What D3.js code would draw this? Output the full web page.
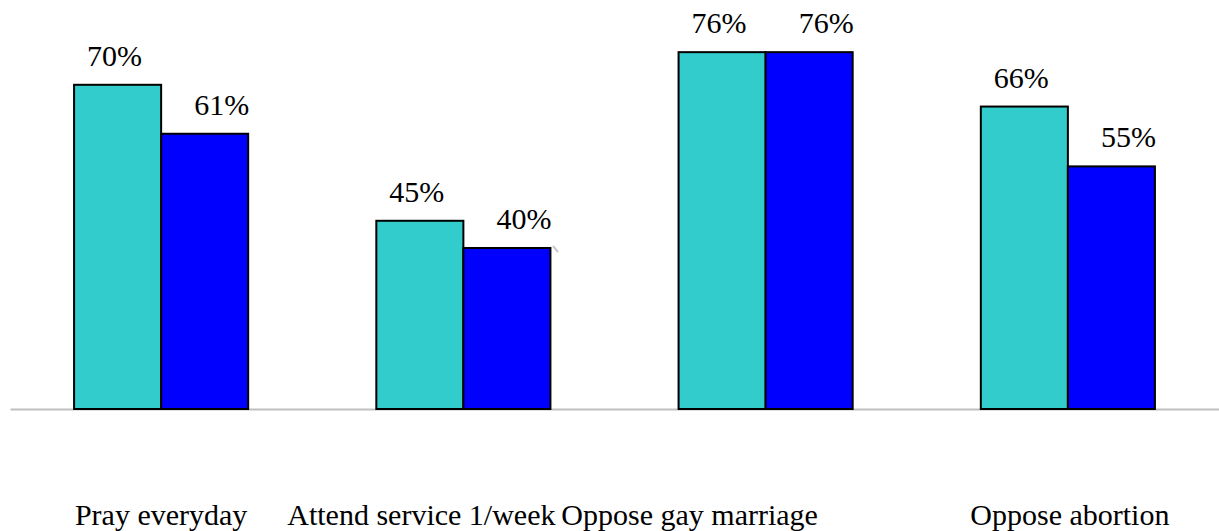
<!DOCTYPE html>
<html>
<head>
<meta charset="utf-8">
<script src="https://cdn.jsdelivr.net/npm/d3@7"></script>
<style>
  html, body { margin: 0; padding: 0; background: #fff; }
  svg { display: block; }
  text { font-family: "Liberation Serif", "Times New Roman", serif; fill: #000; }
</style>
</head>
<body>
<svg id="chart" width="1219" height="531"></svg>
<script>
// ---- data ----
const categories = ["Pray everyday", "Attend service 1/week", "Oppose gay marriage", "Oppose abortion"];
const seriesNames = ["Series A", "Series B"];
const seriesA = [70, 45, 76, 66];
const seriesB = [61, 40, 76, 55];
const valueFormat = v => v + "%";

// ---- layout (not data) ----
const baseY = 409;
const catLabelShift = [0, -42, -76, 2];
const svg = d3.select("#chart");

const x0 = d3.scaleBand().domain(categories).range([10, 1219]).paddingInner(0.424).paddingOuter(0.212);
const x1 = d3.scaleBand().domain(seriesNames).range([0, x0.bandwidth()]).padding(0);
const y = d3.scaleLinear().domain([10.4, 80]).range([baseY, 30.4]);

const colors = d3.scaleOrdinal().domain(seriesNames).range(["#33CCCC", "#0000FF"]);
const labelDx = d3.scaleOrdinal().domain(seriesNames).range([-3, 17]);

const rows = categories.map((c, i) => ({
  cat: c,
  vals: [{ s: seriesNames[0], v: seriesA[i] }, { s: seriesNames[1], v: seriesB[i] }]
}));

// axis baseline
const xAxis = d3.axisBottom(x0).tickSize(0).tickFormat("");
const axisG = svg.append("g").attr("transform", `translate(0,${baseY})`).call(xAxis);
axisG.select(".domain").attr("stroke", "#BFBFBF").attr("stroke-width", 2);

const groups = svg.append("g").selectAll("g").data(rows).join("g")
  .attr("transform", d => `translate(${x0(d.cat)},0)`);

groups.selectAll("rect").data(d => d.vals).join("rect")
  .attr("x", d => x1(d.s))
  .attr("y", d => y(d.v))
  .attr("width", x1.bandwidth())
  .attr("height", d => baseY - y(d.v))
  .attr("fill", d => colors(d.s))
  .attr("stroke", "#000")
  .attr("stroke-width", 2);

groups.selectAll("text.val").data(d => d.vals).join("text")
  .attr("class", "val")
  .attr("x", d => x1(d.s) + x1.bandwidth() / 2 + labelDx(d.s))
  .attr("y", d => y(d.v) - 19)
  .attr("text-anchor", "middle")
  .attr("font-size", 30)
  .text(d => valueFormat(d.v));

// category labels
svg.append("g").selectAll("text").data(categories).join("text")
  .attr("x", (d, i) => x0(d) + x0.bandwidth() / 2 + catLabelShift[i])
  .attr("y", 525)
  .attr("text-anchor", "middle")
  .attr("font-size", 30)
  .text(d => d);

// small stray mark seen in the reference
svg.append("path").attr("d", "M553,246 L558,252").attr("stroke", "#C8C8C8").attr("stroke-width", 2);
</script>
</body>
</html>
